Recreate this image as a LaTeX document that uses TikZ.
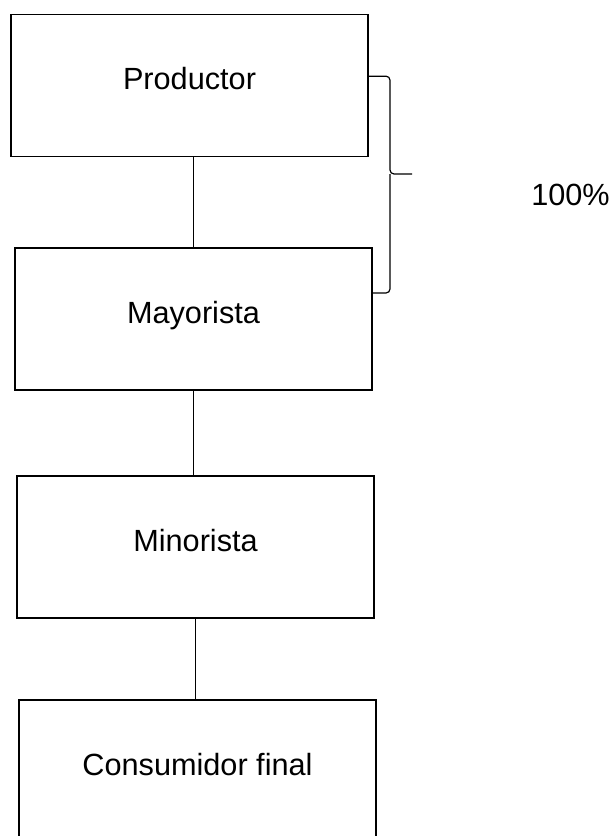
\documentclass[tikz,border=0pt]{standalone}
\usepackage{fontspec}
\setmainfont{Liberation Sans}
\begin{document}
\begin{tikzpicture}[x=0.75pt,y=-0.75pt,font=\fontsize{23pt}{28pt}\selectfont,
  box/.style={draw,line width=0.9pt,minimum width=267.75pt,minimum height=106.5pt,inner sep=0pt,text height=17pt,text depth=11pt},
  brace/.style={line width=0.9pt,rounded corners=3pt}]

\useasboundingbox (0,0) rectangle (613,836);
\clip (0,0) rectangle (613,836);

\node[box] (prod) at (189.5,85.5) {Productor};
\node[box] (may) at (193.5,319) {Mayorista};
\node[box] (min) at (195.5,547) {Minorista};
\node[box] (cons) at (197.5,771) {Consumidor final};

\draw[line width=0.8pt] (may.north) -- (may.north |- prod.south);
\draw[line width=0.8pt] (may.south |- min.north) -- (may.south);
\draw[line width=0.8pt] (min.south) -- (min.south |- cons.north);

\coordinate (mid) at (390,174);
\draw[brace] ([yshift=7pt]prod.east) -| (mid) -- ++(22,0) coordinate (tip);
\draw[brace] (mid) |- ([yshift=19.5pt]may.east);

\node[anchor=base west,inner sep=0pt] (pct) at (531,205) {100\%};

\end{tikzpicture}
\end{document}
